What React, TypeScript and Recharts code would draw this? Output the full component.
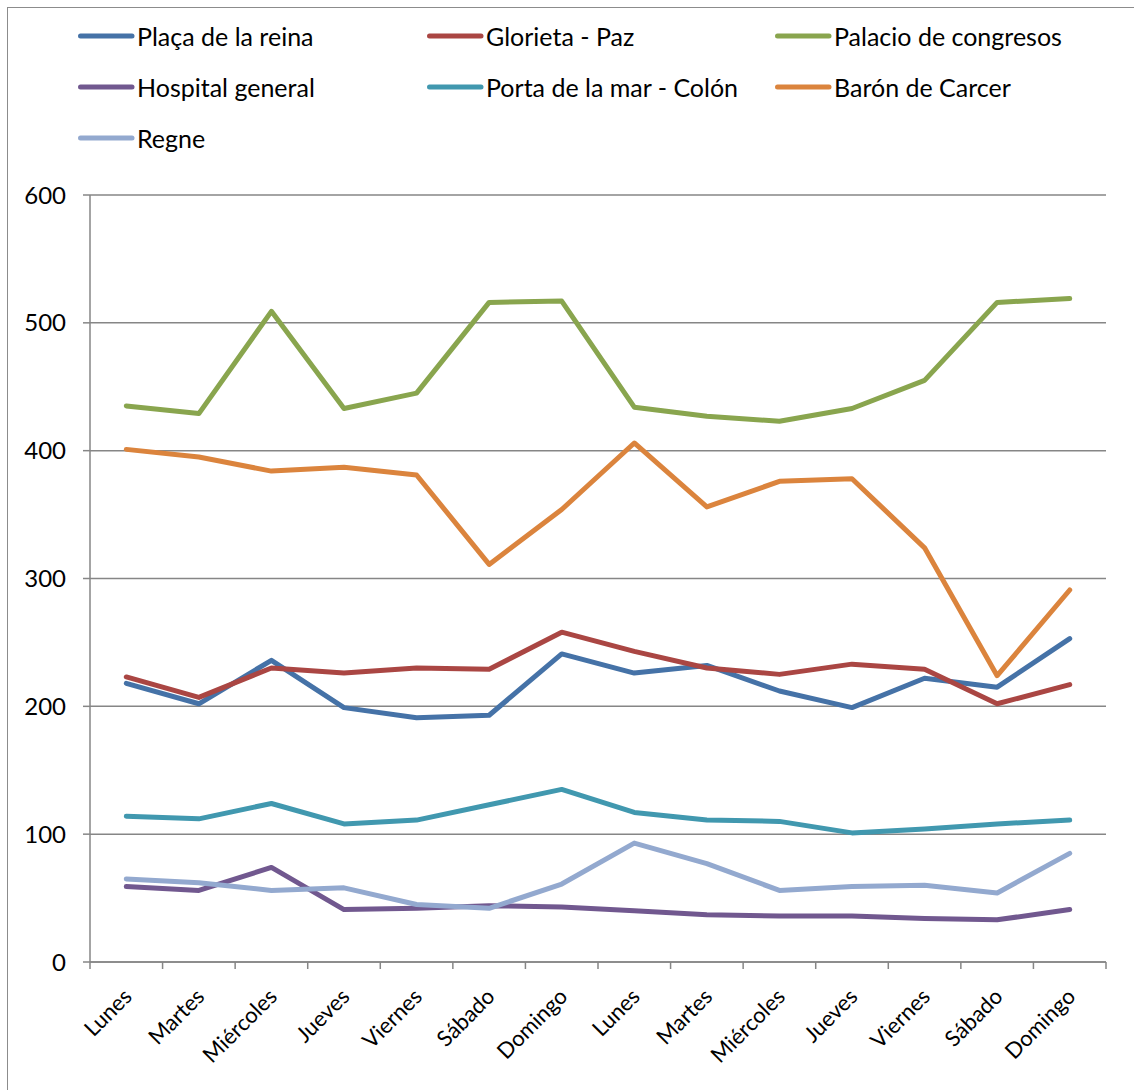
import { LineChart, Line, XAxis, YAxis, CartesianGrid } from "recharts";

const days = ["Lunes", "Martes", "Miércoles", "Jueves", "Viernes", "Sábado", "Domingo"];
const categories = [...days, ...days];
const yTicks = [0, 100, 200, 300, 400, 500, 600];

const placaReina = [218, 202, 236, 199, 191, 193, 241, 226, 232, 212, 199, 222, 215, 253];
const glorietaPaz = [223, 207, 230, 226, 230, 229, 258, 243, 230, 225, 233, 229, 202, 217];
const palacioCongresos = [435, 429, 509, 433, 445, 516, 517, 434, 427, 423, 433, 455, 516, 519];
const hospitalGeneral = [59, 56, 74, 41, 42, 44, 43, 40, 37, 36, 36, 34, 33, 41];
const portaMar = [114, 112, 124, 108, 111, 123, 135, 117, 111, 110, 101, 104, 108, 111];
const baronCarcer = [401, 395, 384, 387, 381, 311, 354, 406, 356, 376, 378, 324, 224, 291];
const regne = [65, 62, 56, 58, 45, 42, 61, 93, 77, 56, 59, 60, 54, 85];

const series = [
  { key: "placa", name: "Plaça de la reina", color: "#4572A7", values: placaReina },
  { key: "glorieta", name: "Glorieta - Paz", color: "#AA4643", values: glorietaPaz },
  { key: "palacio", name: "Palacio de congresos", color: "#89A54E", values: palacioCongresos },
  { key: "hospital", name: "Hospital general", color: "#71588F", values: hospitalGeneral },
  { key: "porta", name: "Porta de la mar - Colón", color: "#4198AF", values: portaMar },
  { key: "baron", name: "Barón de Carcer", color: "#DB843D", values: baronCarcer },
  { key: "regne", name: "Regne", color: "#93A9CF", values: regne },
];

const data = categories.map((day, i) => {
  const row: Record<string, string | number> = { day };
  series.forEach((s) => (row[s.key] = s.values[i]));
  return row;
});

const FONT = "Lato, 'Noto Sans', sans-serif";
const AXIS = "#868686";
const W = 1134;
const H = 1090;
const M = { top: 195, right: 28, bottom: 0, left: 8 };
const X_AXIS_H = 128;
const Y_AXIS_W = 82;
const band = (W - M.left - Y_AXIS_W - M.right) / categories.length;

// category labels sit diagonally; tick marks go on the band edges
function DayTick(props: any) {
  const { x, y, payload, index } = props;
  const edges = [x - band / 2];
  if (index === categories.length - 1) edges.push(x + band / 2);
  const ax = x + 7;
  const ay = y + 36;
  return (
    <g>
      {edges.map((ex) => (
        <line key={ex} x1={ex} x2={ex} y1={y} y2={y + 7} stroke={AXIS} strokeWidth={1.5} />
      ))}
      <text
        x={ax}
        y={ay}
        textAnchor="end"
        transform={`rotate(-45 ${ax} ${ay})`}
        fontFamily={FONT}
        fontSize={22}
        fill="#000"
      >
        {payload.value}
      </text>
    </g>
  );
}

function Legend() {
  return (
    <div
      style={{
        position: "absolute",
        left: 78,
        top: 21,
        display: "grid",
        gridTemplateColumns: "349px 348px 300px",
        rowGap: 21,
        fontFamily: FONT,
        fontSize: 25,
        color: "#000",
      }}
    >
      {series.map((s) => (
        <div key={s.key} style={{ display: "flex", alignItems: "center", height: 30 }}>
          <svg width={59} height={10}>
            <line x1={2.5} x2={54} y1={5} y2={5} stroke={s.color} strokeWidth={5} strokeLinecap="round" />
          </svg>
          <span>{s.name}</span>
        </div>
      ))}
    </div>
  );
}

export default function App() {
  return (
    <div style={{ position: "absolute", left: 0, top: 0, width: W, height: H, background: "#fff", overflow: "hidden" }}>
      <div style={{ position: "absolute", left: 7, top: 7, width: W + 20, height: H + 20, border: "1.5px solid #8c8c8c" }} />
      <Legend />
      <LineChart width={W} height={H} data={data} margin={M} style={{ position: "absolute", left: 0, top: 0 }}>
        <CartesianGrid horizontal vertical={false} stroke={AXIS} strokeWidth={1.5} />
        <XAxis
          dataKey="day"
          interval={0}
          padding={{ left: band / 2, right: band / 2 }}
          axisLine={{ stroke: AXIS, strokeWidth: 1.5 }}
          tickLine={false}
          tickSize={0}
          tickMargin={0}
          tick={<DayTick />}
          height={X_AXIS_H}
        />
        <YAxis
          width={Y_AXIS_W}
          domain={[0, 600]}
          ticks={yTicks}
          interval={0}
          axisLine={{ stroke: AXIS, strokeWidth: 1.5 }}
          tickLine={{ stroke: AXIS, strokeWidth: 1.5 }}
          tickSize={7}
          tickMargin={17}
          tick={{ fontFamily: FONT, fontSize: 24, fill: "#000" }}
        />
        {series.map((s) => (
          <Line
            key={s.key}
            dataKey={s.key}
            name={s.name}
            stroke={s.color}
            strokeWidth={5}
            strokeLinejoin="round"
            strokeLinecap="round"
            dot={false}
            activeDot={false}
            type="linear"
            isAnimationActive={false}
          />
        ))}
      </LineChart>
    </div>
  );
}
